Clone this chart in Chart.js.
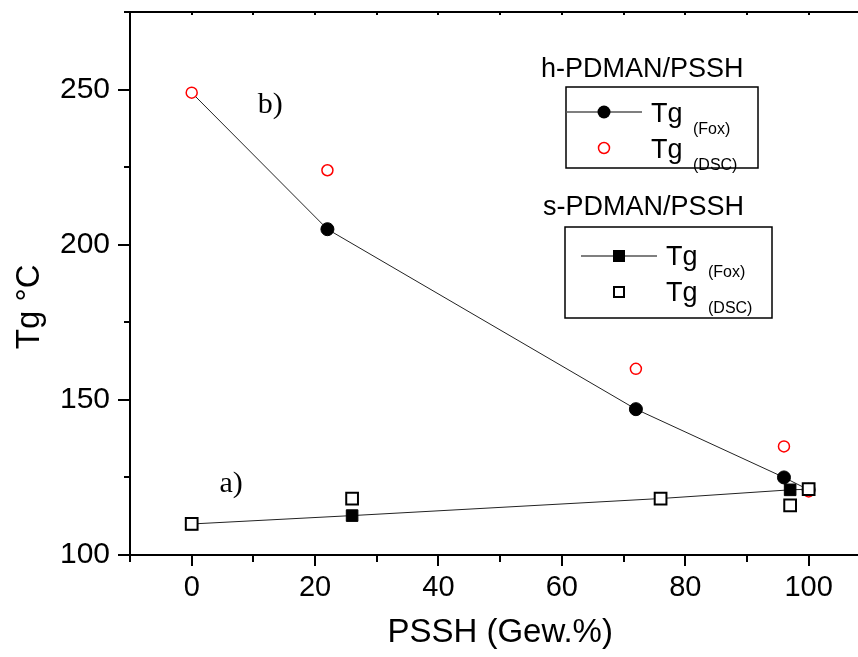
<!DOCTYPE html>
<html>
<head>
<meta charset="utf-8">
<script src="https://cdn.jsdelivr.net/npm/chart.js@4.4.1/dist/chart.umd.min.js"></script>
<style>
  html,body{margin:0;padding:0;background:#fff;}
  canvas{display:block;}
</style>
</head>
<body>
<canvas id="tgChart" width="858" height="657"></canvas>
<script>
// h-PDMAN/PSSH blend (b)
const hFoxX = [0, 22, 72, 96, 100];
const hFoxY = [249, 205, 147, 125, 121];
const hDscX = [0, 22, 72, 96, 100];
const hDscY = [249, 224, 160, 135, 120.5];

// s-PDMAN/PSSH blend (a)
const sFoxX = [0, 26, 76, 97, 100];
const sFoxY = [110, 112.7, 118.2, 121, 121.2];
const sDscX = [0, 26, 76, 97, 100];
const sDscY = [110, 118.2, 118.2, 116, 121.2];

const xTickLabels = [0, 20, 40, 60, 80, 100];
const yTickLabels = [100, 150, 200, 250];

const toPts = (xs, ys) => xs.map((x, i) => ({x: x, y: ys[i]}));
const FONT = "'Liberation Sans', Arial, sans-serif";
Chart.defaults.font.family = FONT;
Chart.defaults.color = '#000';

// tick marks, top frame line, axis titles and the "a)" / "b)" labels
const frame = {
  id: 'frame',
  afterDraw(chart) {
    const ctx = chart.ctx, xs = chart.scales.x, ys = chart.scales.y;
    const a = chart.chartArea;
    ctx.save();
    ctx.strokeStyle = '#000';
    ctx.lineWidth = 2;
    ctx.beginPath();
    ctx.moveTo(a.left, a.top);
    ctx.lineTo(a.right, a.top);
    ctx.stroke();
    xs.ticks.forEach(t => {
      const px = Math.round(xs.getPixelForValue(t.value));
      const len = t.value % 20 === 0 ? 11 : 7;
      ctx.beginPath();
      ctx.moveTo(px, a.bottom); ctx.lineTo(px, a.bottom + len);
      ctx.moveTo(px, a.top); ctx.lineTo(px, a.top + 3);
      ctx.stroke();
    });
    ys.ticks.forEach(t => {
      const py = Math.round(ys.getPixelForValue(t.value));
      const len = t.value % 50 === 0 ? 12 : 6;
      ctx.beginPath();
      ctx.moveTo(a.left, py); ctx.lineTo(a.left - len, py);
      ctx.stroke();
    });

    ctx.fillStyle = '#000';
    ctx.font = '33px ' + FONT;
    ctx.textAlign = 'center';
    ctx.textBaseline = 'middle';
    ctx.fillText('PSSH (Gew.%)', xs.getPixelForValue(50), 633);
    ctx.save();
    ctx.translate(30, ys.getPixelForValue(180));
    ctx.rotate(-Math.PI / 2);
    ctx.fillText('Tg °C', 0, 0);
    ctx.restore();

    ctx.textAlign = 'left';
    ctx.font = "30px 'Liberation Serif', 'Times New Roman', serif";
    ctx.textBaseline = 'alphabetic';
    ctx.fillText('b)', xs.getPixelForValue(10.7), ys.getPixelForValue(242.6));
    ctx.fillText('a)', xs.getPixelForValue(4.5), ys.getPixelForValue(120.4));
    ctx.restore();
  }
};

// the two boxed legends
const legendBoxes = {
  id: 'legendBoxes',
  afterDraw(chart) {
    const ctx = chart.ctx;
    ctx.save();
    ctx.fillStyle = '#000';
    ctx.textBaseline = 'alphabetic';
    ctx.font = '27px ' + FONT;
    ctx.fillText('h-PDMAN/PSSH', 541, 77);
    ctx.fillText('s-PDMAN/PSSH', 543, 215);

    ctx.strokeStyle = '#000';
    ctx.lineWidth = 1.5;
    ctx.strokeRect(566, 87, 192, 81);
    ctx.strokeRect(565, 227, 207, 91);

    const tg = (x, y, sub) => {
      ctx.fillStyle = '#000';
      ctx.font = '27px ' + FONT;
      ctx.fillText('Tg', x, y);
      ctx.font = '16px ' + FONT;
      ctx.fillText(sub, x + 42, y + 12);
    };

    // h-PDMAN rows
    ctx.strokeStyle = '#555';
    ctx.lineWidth = 1.5;
    ctx.beginPath(); ctx.moveTo(566, 112); ctx.lineTo(642, 112); ctx.stroke();
    ctx.fillStyle = '#000';
    ctx.beginPath(); ctx.arc(604, 112, 6.5, 0, Math.PI * 2); ctx.fill();
    tg(651, 122, '(Fox)');
    ctx.strokeStyle = '#ff0000';
    ctx.fillStyle = '#fff';
    ctx.beginPath(); ctx.arc(604, 148, 5.5, 0, Math.PI * 2); ctx.fill(); ctx.stroke();
    tg(651, 158, '(DSC)');

    // s-PDMAN rows
    ctx.strokeStyle = '#555';
    ctx.beginPath(); ctx.moveTo(581, 256); ctx.lineTo(657, 256); ctx.stroke();
    ctx.fillStyle = '#000';
    ctx.fillRect(613, 250, 12, 12);
    tg(666, 265, '(Fox)');
    ctx.strokeStyle = '#000';
    ctx.lineWidth = 2;
    ctx.fillStyle = '#fff';
    ctx.fillRect(614, 287, 10, 10);
    ctx.strokeRect(614, 287, 10, 10);
    tg(666, 301, '(DSC)');
    ctx.restore();
  }
};

new Chart(document.getElementById('tgChart'), {
  type: 'scatter',
  data: {
    datasets: [
      {
        label: 's Tg (DSC)', data: toPts(sDscX, sDscY), order: 0,
        pointStyle: 'rect', pointRadius: 8.3, pointBackgroundColor: '#fff',
        pointBorderColor: '#000', pointBorderWidth: 2, showLine: false
      },
      {
        label: 'h Tg (DSC)', data: toPts(hDscX, hDscY), order: 1,
        pointStyle: 'circle', pointRadius: 5.5, pointBackgroundColor: '#fff',
        pointBorderColor: '#ff0000', pointBorderWidth: 1.5, showLine: false
      },
      {
        label: 's Tg (Fox)', data: toPts(sFoxX, sFoxY), order: 2,
        pointStyle: 'rect', pointRadius: 8.2, pointBackgroundColor: '#000',
        pointBorderColor: '#000', pointBorderWidth: 1,
        showLine: true, borderColor: '#222', borderWidth: 1
      },
      {
        label: 'h Tg (Fox)', data: toPts(hFoxX, hFoxY), order: 3,
        pointStyle: 'circle', pointRadius: [0, 6.5, 6.5, 6.5, 6.5], pointBackgroundColor: '#000',
        pointBorderColor: '#000', pointBorderWidth: 1,
        showLine: true, borderColor: '#222', borderWidth: 1
      }
    ]
  },
  options: {
    responsive: false,
    animation: false,
    layout: {autoPadding: false, padding: {left: 7, top: 12, right: 0, bottom: 0}},
    plugins: {legend: {display: false}, tooltip: {enabled: false}},
    scales: {
      x: {
        type: 'linear', min: -10, max: 108,
        afterFit: s => { s.height = 102; s.paddingLeft = 0; s.paddingRight = 0; },
        border: {display: true, color: '#000', width: 2},
        grid: {display: true, drawOnChartArea: false, drawTicks: false},
        ticks: {
          stepSize: 10, includeBounds: false, padding: 16,
          font: {size: 29}, maxRotation: 0, autoSkip: false,
          callback: v => xTickLabels.includes(v) ? String(v) : ''
        },
        title: {display: false}
      },
      y: {
        type: 'linear', min: 100, max: 275,
        afterFit: s => { s.width = 123; s.paddingTop = 0; s.paddingBottom = 0; },
        border: {display: true, color: '#000', width: 2},
        grid: {display: true, drawOnChartArea: false, drawTicks: false},
        ticks: {
          stepSize: 25, includeBounds: false, padding: 20,
          font: {size: 30}, autoSkip: false,
          callback: v => yTickLabels.includes(v) ? String(v) : ''
        },
        title: {display: false}
      }
    }
  },
  plugins: [frame, legendBoxes]
});
</script>
</body>
</html>
